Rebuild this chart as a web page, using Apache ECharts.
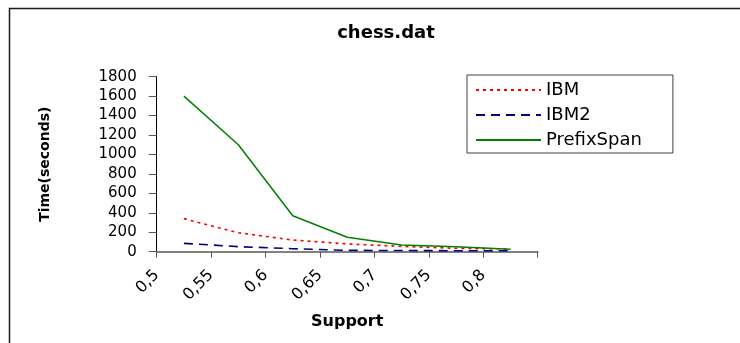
<!DOCTYPE html>
<html>
<head>
<meta charset="utf-8">
<script src="https://cdn.jsdelivr.net/npm/echarts@6/dist/echarts.min.js"></script>
<style>
  html, body { margin: 0; padding: 0; background: #fff; }
  #chart { width: 740px; height: 343px; }
</style>
</head>
<body>
<div id="chart"></div>
<script>
// Support thresholds (one category per measurement) and the tick labels shown under the axis
const supportCategories = ['0,5', '0,55', '0,6', '0,65', '0,7', '0,75', '0,8'];
const supportTickLabels = ['0,5', '0,55', '0,6', '0,65', '0,7', '0,75', '0,8', ''];

// Run time in seconds for each algorithm
const ibmTimes        = [340, 195, 120, 80, 55, 35, 28];
const ibm2Times       = [86, 52, 31, 14, 12, 10, 10];
const prefixSpanTimes = [1600, 1100, 370, 148, 69, 51, 25];

// Value axis ticks
const timeMin = 0, timeMax = 1800, timeStep = 200;

const FONT = '"DejaVu Sans", "Liberation Sans", Arial, sans-serif';

const chart = echarts.init(document.getElementById('chart'), null, { renderer: 'canvas' });

chart.setOption({
  backgroundColor: '#ffffff',
  animation: false,
  title: {
    text: 'chess.dat',
    left: 381,
    top: 19,
    textAlign: 'center',
    textStyle: { fontFamily: FONT, fontSize: 18, fontWeight: 'bold', color: '#000' }
  },
  legend: {
    orient: 'vertical',
    left: 467,
    top: 75,
    padding: [5, 31, 3, 8],
    itemGap: 5,
    itemWidth: 65,
    itemHeight: 14,
    borderColor: '#404040',
    borderWidth: 1,
    backgroundColor: '#fff',
    itemStyle: { opacity: 0, borderWidth: 0 },
    textStyle: { fontFamily: FONT, fontSize: 18, color: '#000', lineHeight: 20 },
    data: ['IBM', 'IBM2', 'PrefixSpan']
  },
  grid: { left: 156.7, right: 202.3, top: 76.7, bottom: 91.3, containLabel: false },
  xAxis: [
    {
      type: 'category',
      data: supportCategories,
      boundaryGap: true,
      position: 'bottom',
      name: 'Support',
      nameLocation: 'middle',
      nameGap: 62,
      nameTextStyle: { fontFamily: FONT, fontSize: 16, fontWeight: 'bold', color: '#000' },
      axisLine: { show: true, lineStyle: { color: '#808080', width: 2 } },
      axisTick: { show: true, length: 6, lineStyle: { color: '#555', width: 1 } },
      axisLabel: { show: false },
      splitLine: { show: false }
    },
    {
      type: 'category',
      data: supportTickLabels,
      boundaryGap: false,
      position: 'bottom',
      axisLine: { show: false },
      axisTick: { show: false },
      axisLabel: {
        show: true,
        interval: 0,
        rotate: 45,
        margin: 21,
        fontFamily: FONT,
        fontSize: 16,
        color: '#000'
      },
      splitLine: { show: false }
    }
  ],
  yAxis: {
    type: 'value',
    min: timeMin,
    max: timeMax,
    interval: timeStep,
    name: 'Time(seconds)',
    nameLocation: 'middle',
    nameGap: 104,
    nameTextStyle: { fontFamily: FONT, fontSize: 14, fontWeight: 'bold', color: '#000' },
    axisLine: { show: true, lineStyle: { color: '#000', width: 1 } },
    axisTick: { show: true, inside: false, length: 8, lineStyle: { color: '#555', width: 1 } },
    axisLabel: {
      margin: 20,
      fontFamily: FONT,
      fontSize: 15,
      color: '#000',
      formatter: function (v) { return String(v); }
    },
    splitLine: { show: false }
  },
  graphic: [
    {
      type: 'rect',
      shape: { x: 9.5, y: 8.5, width: 800, height: 400 },
      style: { fill: 'none', stroke: '#1a1a1a', lineWidth: 1.5 },
      silent: true,
      z: 100
    }
  ],
  series: [
    {
      name: 'IBM',
      type: 'line',
      xAxisIndex: 0,
      data: ibmTimes,
      symbol: 'none',
      color: '#ff0000',
      lineStyle: { color: '#ff0000', width: 1.6, type: [3, 4] }
    },
    {
      name: 'IBM2',
      type: 'line',
      xAxisIndex: 0,
      data: ibm2Times,
      symbol: 'none',
      color: '#000080',
      lineStyle: { color: '#000080', width: 1.6, type: [9, 6] }
    },
    {
      name: 'PrefixSpan',
      type: 'line',
      xAxisIndex: 0,
      data: prefixSpanTimes,
      symbol: 'none',
      color: '#008000',
      lineStyle: { color: '#008000', width: 1.5, type: 'solid' }
    }
  ]
});
</script>
</body>
</html>
